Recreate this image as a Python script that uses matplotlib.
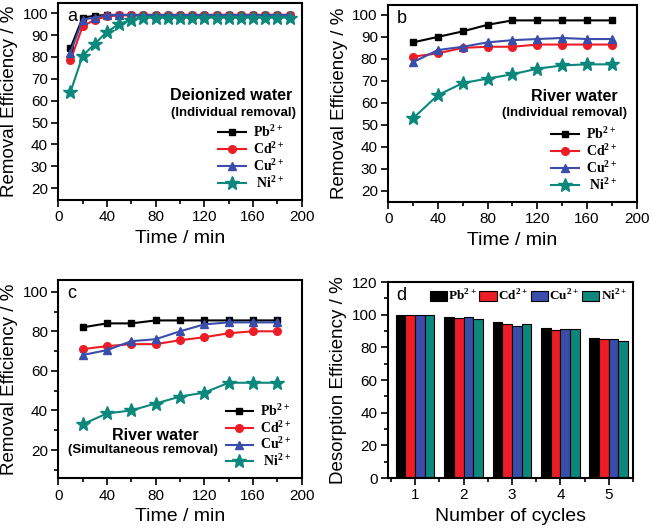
import matplotlib
matplotlib.use("Agg")
import matplotlib.pyplot as plt
from matplotlib.ticker import MultipleLocator
import numpy as np

plt.rcParams['font.family'] = ['Liberation Sans', 'DejaVu Sans']
plt.rcParams['mathtext.fontset'] = 'custom'
plt.rcParams['mathtext.rm'] = 'Liberation Serif:bold'
plt.rcParams['mathtext.bf'] = 'Liberation Serif:bold'

ions = ['Pb', 'Cd', 'Cu', 'Ni']
ion_labels = ['Pb$^{\\mathrm{2+}}$', 'Cd$^{\\mathrm{2+}}$', 'Cu$^{\\mathrm{2+}}$', ' Ni$^{\\mathrm{2+}}$']

# (a) deionized water, individual removal
time_a = [10, 20, 30, 40, 50, 60, 70, 80, 90, 100, 110, 120, 130, 140, 150, 160, 170, 180, 190]
pb_a = [84, 98, 98.8, 99.2, 99.2, 99.2, 99.2, 99.2, 99.2, 99.2, 99.2, 99.2, 99.2, 99.2, 99.2, 99.2, 99.2, 99.2, 99.2]
cd_a = [78.5, 94, 97, 98.5, 99, 99, 99, 99, 99, 99, 99, 99, 99, 99, 99, 99, 99, 99, 99]
cu_a = [82, 97, 98, 99, 99.2, 99.2, 99.2, 99.2, 99.2, 99.2, 99.2, 99.2, 99.2, 99.2, 99.2, 99.2, 99.2, 99.2, 99.2]
ni_a = [64, 80.5, 86, 91.5, 95, 97, 98, 98, 98, 98, 98, 98, 98, 98, 98, 98, 98, 98, 98]

# (b) river water, individual removal
time_b = [20, 40, 60, 80, 100, 120, 140, 160, 180]
pb_b = [87.5, 90, 92.5, 95.5, 97.5, 97.5, 97.5, 97.5, 97.5]
cd_b = [81, 82.5, 85, 85.5, 85.5, 86.5, 86.5, 86.5, 86.5]
cu_b = [78.5, 84, 85.5, 87.5, 88.5, 89, 89.5, 89, 89]
ni_b = [53, 63.5, 69, 71, 73, 75.5, 77, 77.5, 77.5]

# (c) river water, simultaneous removal
time_c = [20, 40, 60, 80, 100, 120, 140, 160, 180]
pb_c = [82, 84, 84, 85.5, 85.5, 85.5, 85.5, 85.5, 85.5]
cd_c = [71, 72.5, 73.5, 73.5, 75.5, 77, 79, 80, 80]
cu_c = [68, 70.5, 75, 76, 80, 83.5, 84.5, 84.5, 84.5]
ni_c = [33, 38.5, 40, 43.5, 47, 49, 54, 54, 54]

# (d) desorption efficiency per cycle
cycles = [1, 2, 3, 4, 5]
pb_d = [100, 98.5, 95.5, 92, 86]
cd_d = [99.5, 98, 94, 90.5, 85]
cu_d = [100, 98.5, 93, 91.5, 85]
ni_d = [100, 97.5, 94, 91, 84]

colors = ['black', '#ee1c24', '#3a4daa', '#0b877c']
markers = ['s', 'o', '^', '*']
msizes = [5, 5.5, 6, 10]

leg_font = {'family': 'Liberation Serif', 'weight': 'bold', 'size': 10}


def style_axes(ax):
    for s in ax.spines.values():
        s.set_linewidth(1.5)
    ax.tick_params(which='both', direction='out', top=False, right=False,
                   width=1.2, labelsize=11, pad=2.5)
    ax.tick_params(which='major', length=5)
    ax.tick_params(which='minor', length=3)


def line_panel(ax, t, series, letter, ylim, ymaj, ymin, title, sub, tpos, spos, legpos):
    for vals, c, m, ms, lab in zip(series, colors, markers, msizes, ion_labels):
        ax.plot(t, vals, color=c, marker=m, markersize=ms, linewidth=1.5, label=lab)
    ax.set_xlim(0, 200)
    ax.set_ylim(*ylim)
    ax.xaxis.set_major_locator(MultipleLocator(40))
    ax.xaxis.set_minor_locator(MultipleLocator(20))
    ax.yaxis.set_major_locator(MultipleLocator(ymaj))
    if ymin:
        ax.yaxis.set_minor_locator(MultipleLocator(ymin))
    style_axes(ax)
    ax.set_xlabel('Time / min', fontsize=14, labelpad=4)
    ax.set_ylabel('Removal Efficiency / %', fontsize=13.5, labelpad=3)
    ax.text(0.035, 0.975, letter, transform=ax.transAxes, fontsize=13, va='top', ha='left')
    ax.text(tpos[0], tpos[1], title, transform=ax.transAxes, fontsize=11.5, fontweight='bold',
            ha='center', va='center')
    ax.text(spos[0], spos[1], sub, transform=ax.transAxes, fontsize=9.5, fontweight='bold',
            ha='center', va='center')
    ax.legend(loc='lower left', bbox_to_anchor=legpos, frameon=False, prop=leg_font,
              handlelength=2.0, handletextpad=0.5, labelspacing=0.02, borderpad=0.15)


fig = plt.figure(figsize=(6.53, 5.32), dpi=100)
ax_a = fig.add_axes([0.0893, 0.6241, 0.3727, 0.3709])
ax_b = fig.add_axes([0.5946, 0.6209, 0.3804, 0.3697])
ax_c = fig.add_axes([0.0893, 0.1009, 0.3727, 0.3727])
ax_d = fig.add_axes([0.5942, 0.1015, 0.3752, 0.3684])

line_panel(ax_a, time_a, [pb_a, cd_a, cu_a, ni_a], 'a', (14.6, 104.8), 10, None,
           'Deionized water', '(Individual removal)', (0.71, 0.527), (0.72, 0.441), (0.62, 0.0))
line_panel(ax_b, time_b, [pb_b, cd_b, cu_b, ni_b], 'b', (15, 104.5), 10, None,
           'River water', '(Individual removal)', (0.75, 0.534), (0.71, 0.452), (0.62, 0.0))
line_panel(ax_c, time_c, [pb_c, cd_c, cu_c, ni_c], 'c', (5.7, 105.9), 20, 10,
           'River water', '(Simultaneous removal)', (0.40, 0.218), (0.346, 0.143), (0.65, 0.0))

# (d) bars
x = np.array(cycles)
width = 0.2
for i, (vals, c, lab) in enumerate(zip([pb_d, cd_d, cu_d, ni_d], colors, ion_labels)):
    ax_d.bar(x + (i - 1.5) * width, vals, width, color=c, edgecolor='black', linewidth=0.8,
             label=lab.strip())
ax_d.set_xlim(0.44, 5.5)
ax_d.set_ylim(0, 120)
ax_d.xaxis.set_major_locator(MultipleLocator(1))
ax_d.xaxis.set_minor_locator(MultipleLocator(0.5))
ax_d.yaxis.set_major_locator(MultipleLocator(20))
ax_d.yaxis.set_minor_locator(MultipleLocator(10))
style_axes(ax_d)
ax_d.set_xlabel('Number of cycles', fontsize=14, labelpad=4)
ax_d.set_ylabel('Desorption Efficiency / %', fontsize=13.5, labelpad=4)
ax_d.text(0.035, 0.975, 'd', transform=ax_d.transAxes, fontsize=13, va='top', ha='left')
ax_d.legend(loc='upper right', bbox_to_anchor=(1.0, 1.0), ncol=4, frameon=False,
            prop={'family': 'Liberation Serif', 'weight': 'bold', 'size': 9.5},
            handlelength=1.3, handleheight=0.8, handletextpad=0.1,
            columnspacing=0.2, borderpad=0.25, borderaxespad=0.2)

fig.savefig('out.png', dpi=100)
